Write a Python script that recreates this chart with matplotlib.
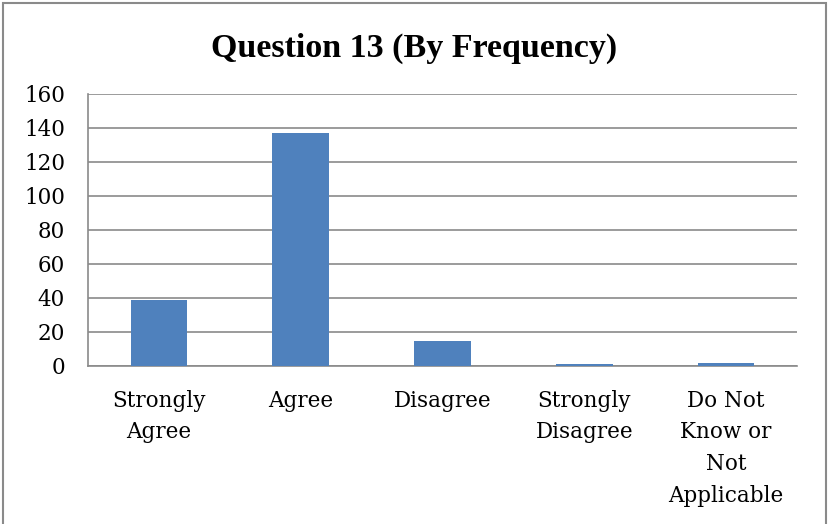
import matplotlib
matplotlib.use("Agg")
import matplotlib.pyplot as plt
from matplotlib.patches import Rectangle

categories = ["Strongly\nAgree", "Agree", "Disagree", "Strongly\nDisagree",
              "Do Not\nKnow or\nNot\nApplicable"]
frequencies = [39, 137, 15, 1, 2]
y_ticks = [0, 20, 40, 60, 80, 100, 120, 140, 160]

plt.rcParams["font.family"] = ["DejaVu Serif"]

W, H = 829, 524
fig = plt.figure(figsize=(W / 100, H / 100), dpi=100)
ax = fig.add_axes([88 / W, 1 - 366 / H, (797 - 88) / W, (366 - 94) / H])

x = range(len(categories))
ax.bar(x, frequencies, width=0.40, color="#4F81BD", zorder=3)

ax.set_xlim(-0.5, len(categories) - 0.5)
ax.set_ylim(0, 160)
ax.set_yticks(y_ticks)
ax.set_yticklabels([str(v) for v in y_ticks], fontsize=15.5)
ax.set_xticks(list(x))
ax.set_xticklabels(categories, fontsize=15.5, linespacing=1.58, va="top")
ax.tick_params(axis="both", length=0, colors="black")
ax.tick_params(axis="x", pad=17)
ax.tick_params(axis="y", pad=16.5)

ax.grid(axis="y", color="#8a8a8a", linewidth=1.2, zorder=0)
for side in ("top", "right"):
    ax.spines[side].set_visible(False)
for side in ("left", "bottom"):
    ax.spines[side].set_color("#8a8a8a")
    ax.spines[side].set_linewidth(1.2)

fig.text(414 / W, 1 - 48 / H, "Question 13 (By Frequency)", ha="center",
         va="center", fontsize=24.5, fontweight="bold",
         family=["Liberation Serif", "DejaVu Serif"])

fig.patches.append(Rectangle((3 / W, -0.05), (826 - 3) / W, 1 - 3 / H + 0.05,
                             transform=fig.transFigure, fill=False,
                             edgecolor="#8a8a8a", linewidth=1.5))

fig.savefig("out.png", dpi=100)
